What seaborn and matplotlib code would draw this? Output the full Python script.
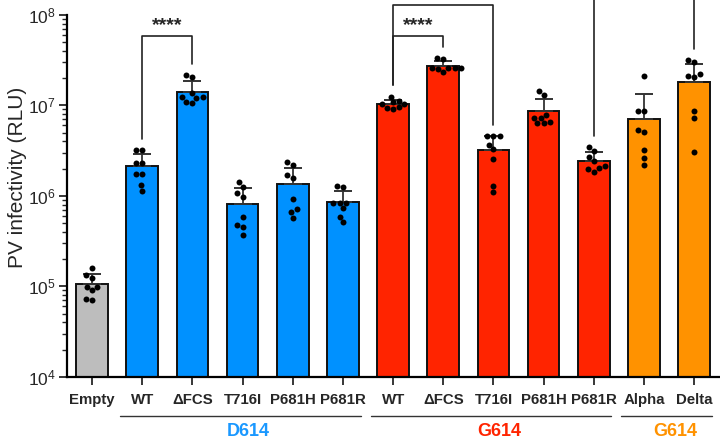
import matplotlib
matplotlib.use("Agg")
import matplotlib.pyplot as plt
import matplotlib.transforms as mtransforms
import numpy as np
import pandas as pd
import seaborn as sns
from matplotlib.ticker import LogLocator, LogFormatterMathtext, NullFormatter

# categories (unique keys) and the labels printed under each bar
categories = ["Empty",
              "D614 WT", "D614 dFCS", "D614 T716I", "D614 P681H", "D614 P681R",
              "G614 WT", "G614 dFCS", "G614 T716I", "G614 P681H", "G614 P681R",
              "Alpha", "Delta"]
tick_labels = ["Empty", "WT", "\u0394FCS", "T716I", "P681H", "P681R",
               "WT", "\u0394FCS", "T716I", "P681H", "P681R", "Alpha", "Delta"]

# replicate values (RLU)
empty = [1.58e5, 1.25e5, 1.33e5, 9.9e4, 9.9e4, 9.1e4, 7.0e4, 7.3e4]
d614_wt = [3.2e6, 3.2e6, 2.28e6, 2.28e6, 1.74e6, 1.74e6, 1.31e6, 1.13e6]
d614_dfcs = [2.04e7, 2.14e7, 1.35e7, 1.22e7, 1.19e7, 1.22e7, 1.09e7, 1.06e7]
d614_t716i = [1.24e6, 1.41e6, 9.7e5, 1.06e6, 5.8e5, 4.7e5, 4.5e5, 3.7e5]
d614_p681h = [2.2e6, 2.36e6, 1.57e6, 1.69e6, 9.2e5, 7.1e5, 6.6e5, 5.7e5]
d614_p681r = [1.26e6, 1.29e6, 8.3e5, 8.3e5, 8.4e5, 7.3e5, 5.8e5, 5.1e5]
g614_wt = [9.6e6, 1.08e7, 1.12e7, 1.24e7, 9.4e6, 1.04e7, 9.2e6, 1.04e7]
g614_dfcs = [3.3e7, 3.24e7, 2.51e7, 2.58e7, 2.58e7, 2.55e7, 2.6e7, 2.34e7]
g614_t716i = [4.57e6, 4.6e6, 4.55e6, 3.66e6, 3.28e6, 2.52e6, 1.28e6, 1.09e6]
g614_p681h = [1.30e7, 1.45e7, 7.9e6, 7.2e6, 7.2e6, 6.6e6, 6.3e6, 6.3e6]
g614_p681r = [3.14e6, 3.43e6, 2.44e6, 2.65e6, 1.84e6, 2.13e6, 1.96e6, 2.01e6]
alpha = [2.12e7, 8.6e6, 8.6e6, 5.3e6, 5.06e6, 3.2e6, 2.59e6, 2.18e6]
delta = [2.98e7, 3.16e7, 2.19e7, 2.03e7, 2.1e7, 8.6e6, 7.3e6, 3.04e6]

replicates = [empty, d614_wt, d614_dfcs, d614_t716i, d614_p681h, d614_p681r,
              g614_wt, g614_dfcs, g614_t716i, g614_p681h, g614_p681r, alpha, delta]

bar_colors = ["#bdbdbd"] + ["#0091ff"] * 5 + ["#ff2400"] * 5 + ["#ff9200"] * 2

# group labels under the axis: (name, first index, last index, colour)
groups = [("D614", 1, 5, "#1a98ff"), ("G614", 6, 10, "#ff2400"), ("G614", 11, 12, "#ff9200")]

# significance brackets: (left, right, height of bar line, label)
brackets = [(1, 2, 5.8e7, "****"), (6, 7, 5.8e7, "****"), (6, 8, 1.28e8, "")]
# brackets whose other end is off the top of the picture
open_legs = [10, 12]

df = pd.DataFrame({
    "cat": np.repeat(categories, [len(r) for r in replicates]),
    "val": np.concatenate(replicates),
})

sns.set_style("ticks")
plt.rcParams["font.family"] = ["Liberation Sans", "DejaVu Sans"]
plt.rcParams["mathtext.fontset"] = "custom"
plt.rcParams["mathtext.rm"] = "Liberation Sans"
plt.rcParams["mathtext.it"] = "Liberation Sans:italic"
plt.rcParams["mathtext.bf"] = "Liberation Sans:bold"

fig, ax = plt.subplots(figsize=(7.2, 4.47), dpi=100)
fig.subplots_adjust(left=0.093, right=0.999, bottom=0.157, top=0.967)

# bars are the arithmetic mean, so draw them before switching to log
sns.barplot(data=df, x="cat", y="val", hue="cat", order=categories,
            palette=dict(zip(categories, bar_colors)), errorbar=None,
            width=0.63, saturation=1, edgecolor="#111111", linewidth=1.4,
            legend=False, ax=ax, zorder=2)
ax.set_yscale("log")
ax.set_ylim(1e4, 1e8)
ax.set_xlim(-0.67, 12.65)

# mean + SD, upper whisker only
stats = df.groupby("cat")["val"].agg(["mean", "std"]).reindex(categories)
xs = np.arange(len(categories))
ax.errorbar(xs, stats["mean"], yerr=[np.zeros(len(xs)), stats["std"]],
            fmt="none", ecolor="#333333", elinewidth=1.3, capsize=6.5,
            capthick=1.4, zorder=3)

sns.swarmplot(data=df, x="cat", y="val", order=categories, color="black",
              size=4.3, linewidth=0, ax=ax, zorder=4)

# axes styling
for side in ["top", "right"]:
    ax.spines[side].set_visible(False)
for side in ["left", "bottom"]:
    ax.spines[side].set_linewidth(1.6)
    ax.spines[side].set_color("black")
ax.yaxis.set_major_locator(LogLocator(base=10))
ax.yaxis.set_minor_locator(LogLocator(base=10, subs=np.arange(2, 10)))
ax.yaxis.set_major_formatter(LogFormatterMathtext())
ax.yaxis.set_minor_formatter(NullFormatter())
ax.tick_params(axis="y", which="major", length=6, width=1.3, labelsize=12.5, pad=2)
ax.tick_params(axis="y", which="minor", length=3.5, width=1.0)
ax.tick_params(axis="x", length=6, width=1.3, pad=6)
ax.set_xticks(xs)
ax.set_xticklabels(tick_labels, fontsize=10.8, fontweight="bold")
ax.set_xlabel("")
ax.set_ylabel("PV infectivity (RLU)", fontsize=15)
ax.yaxis.set_label_coords(-0.062, 0.55)

# group underlines and names
trans = mtransforms.blended_transform_factory(ax.transData, ax.transAxes)
for name, a, b, col in groups:
    ax.plot([a - 0.45, b + 0.35], [-0.107, -0.107], transform=trans,
            color="#333333", lw=1.0, clip_on=False)
    ax.text((a + b) / 2 + 0.12, -0.152, name, transform=trans, ha="center",
            va="center", fontsize=13, fontweight="bold", color=col)

# significance brackets
tops = stats.index.map(lambda c: df.loc[df["cat"] == c, "val"].max()).to_numpy()
for a, b, h, label in brackets:
    ax.plot([a, a, b, b], [tops[a] * 1.34, h, h, tops[b] * 1.32],
            color="#222222", lw=1.2, clip_on=False, zorder=5)
    if label:
        ax.text((a + b) / 2, h * 1.05, label, ha="center", va="bottom",
                fontsize=14, fontweight="bold")
for i in open_legs:
    ax.plot([i, i], [tops[i] * 1.32, 1e9], color="#222222", lw=1.2,
            clip_on=False, zorder=5)

plt.savefig("out.png", dpi=100)
